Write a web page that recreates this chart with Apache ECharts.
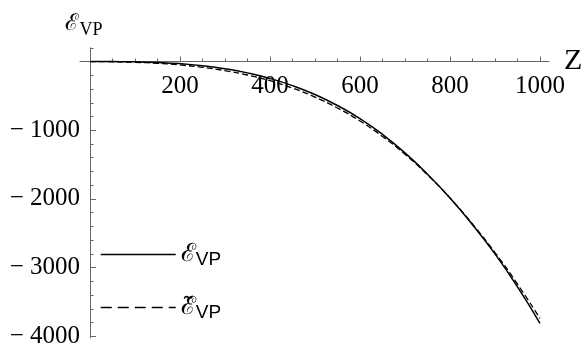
<!DOCTYPE html>
<html>
<head>
<meta charset="utf-8">
<script src="https://cdn.jsdelivr.net/npm/echarts@6/dist/echarts.min.js"></script>
<style>html,body{margin:0;padding:0;background:#fff}#c{width:584px;height:346px}</style>
</head>
<body>
<div id="c"></div>
<script>
const zValues   = [0, 50, 100, 150, 200, 250, 300, 350, 400, 450, 500, 550, 600, 650, 700, 750, 800, 850, 900, 950, 1000];
const evp       = [0, -1, -4, -13, -30, -60, -104, -165, -246, -350, -480, -640, -830, -1060, -1330, -1640, -1985, -2375, -2800, -3280, -3810];
const evpTilde  = [0, -3, -11, -26, -50, -84, -132, -196, -279, -386, -517, -677, -865, -1090, -1350, -1648, -1985, -2365, -2780, -3240, -3740];
const seriesNames = ['ℰVP', 'ℰ̃VP'];
const xTicks      = [200, 400, 600, 800, 1000];
const xMinorTicks = [50, 100, 150, 250, 300, 350, 450, 500, 550, 650, 700, 750, 850, 900, 950];
const yTicks      = [-1000, -2000, -3000, -4000];
const yTickLabels = ['− 1000', '− 2000', '− 3000', '− 4000'];
const yMinorTicks = [200, -200, -400, -600, -800, -1200, -1400, -1600, -1800, -2200, -2400, -2600, -2800, -3200, -3400, -3600, -3800];

const axisGray = '#666';
const xMin = -22, xMax = 1020, yMin = -4020, yMax = 200;
const gridTop = 47.8, gridLeft = 80;
// pixel offsets that put each axis line on the other axis' zero
const xAxisOffset = -(61.5 - gridTop);
const yAxisOffset = -(90 - gridLeft);

const chart = echarts.init(document.getElementById('c'), null, {renderer: 'canvas'});
chart.setOption({
  animation: false,
  backgroundColor: '#fff',
  color: ['#000', '#000'],
  grid: {left: gridLeft, right: 35, top: gridTop, bottom: 8.3, containLabel: false, outerBoundsMode: 'none'},
  xAxis: [{
    type: 'value', min: xMin, max: xMax, position: 'top', offset: xAxisOffset,
    name: 'Z', nameLocation: 'end', nameGap: 15, nameMoveOverlap: false,
    nameTextStyle: {fontFamily: 'Liberation Serif', fontSize: 30, color: '#000', verticalAlign: 'middle'},
    axisLine: {show: true, onZero: false, lineStyle: {color: axisGray, width: 1}},
    axisTick: {show: true, inside: false, length: 5, customValues: xTicks, lineStyle: {color: axisGray}},
    axisLabel: {show: true, inside: true, customValues: xTicks, margin: 12, fontFamily: 'Liberation Serif', fontSize: 25, color: '#000',
      hideOverlap: false, formatter: v => String(v)},
    splitLine: {show: false}
  }, {
    type: 'value', min: xMin, max: xMax, position: 'top', offset: xAxisOffset,
    axisLine: {show: false, onZero: false},
    axisTick: {show: true, inside: false, length: 3, customValues: xMinorTicks, lineStyle: {color: axisGray}},
    axisLabel: {show: false}, splitLine: {show: false}
  }],
  yAxis: [{
    type: 'value', min: yMin, max: yMax, position: 'left', offset: yAxisOffset,
    name: '{e|ℰ}{s|VP}', nameLocation: 'end', nameGap: 12, nameMoveOverlap: false,
    nameTextStyle: {
      align: 'center', padding: [0, 12, 0, 0],
      rich: {
        e: {fontFamily: 'DejaVu Serif', fontSize: 23, color: '#000', verticalAlign: 'bottom'},
        s: {fontFamily: 'Liberation Serif', fontSize: 18, color: '#000', verticalAlign: 'bottom', padding: [0, 0, -3, 0]}
      }
    },
    axisLine: {show: true, onZero: false, lineStyle: {color: axisGray, width: 1}},
    axisTick: {show: true, inside: true, length: 6, customValues: yTicks, lineStyle: {color: axisGray}},
    axisLabel: {show: true, customValues: yTicks, margin: 10, fontFamily: 'Liberation Serif', fontSize: 25, color: '#000',
      formatter: v => yTickLabels[yTicks.indexOf(v)]},
    splitLine: {show: false}
  }, {
    type: 'value', min: yMin, max: yMax, position: 'left', offset: yAxisOffset,
    axisLine: {show: false, onZero: false},
    axisTick: {show: true, inside: true, length: 3.5, customValues: yMinorTicks, lineStyle: {color: axisGray}},
    axisLabel: {show: false}, splitLine: {show: false}
  }],
  legend: {
    orient: 'vertical', left: 95, top: 237, itemWidth: 75, itemHeight: 22, itemGap: 26,
    data: [
      {name: seriesNames[0], itemStyle: {opacity: 0}, lineStyle: {color: '#000', width: 1.5, type: 'solid'}},
      {name: seriesNames[1], itemStyle: {opacity: 0}, lineStyle: {color: '#000', width: 1.3, type: [11, 6]}}
    ],
    formatter: name => name === seriesNames[0] ? '{e|ℰ}{s|VP}' : '{e|ℰ̃}{s|VP}',
    textStyle: {
      color: '#000',
      rich: {
        e: {fontFamily: 'DejaVu Serif', fontSize: 25, color: '#000', verticalAlign: 'bottom'},
        s: {fontFamily: 'Liberation Sans', fontSize: 19, color: '#000', verticalAlign: 'bottom', padding: [0, 0, -2, 0]}
      }
    }
  },
  series: [{
    name: seriesNames[0], type: 'line', xAxisIndex: 0, yAxisIndex: 0,
    data: zValues.map((z, i) => [z, evp[i]]),
    smooth: true, symbol: 'none', itemStyle: {color: '#000'}, lineStyle: {color: '#000', width: 1.5, type: 'solid'}
  }, {
    name: seriesNames[1], type: 'line', xAxisIndex: 0, yAxisIndex: 0,
    data: zValues.map((z, i) => [z, evpTilde[i]]),
    smooth: true, symbol: 'none', itemStyle: {color: '#000'}, lineStyle: {color: '#000', width: 1.3, type: [6, 3]}
  }]
});
</script>
</body>
</html>
